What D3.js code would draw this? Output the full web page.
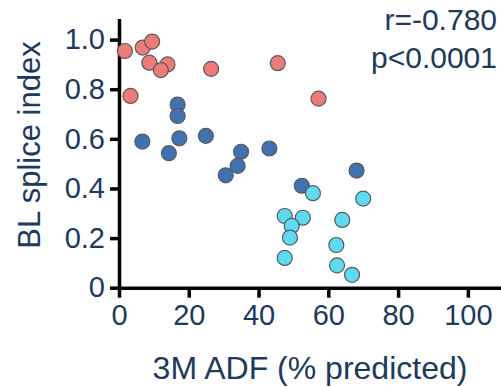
<!DOCTYPE html>
<html><head><meta charset="utf-8">
<script src="https://cdn.jsdelivr.net/npm/d3@7"></script>
<style>body{margin:0;background:#fff}svg{display:block}</style>
</head><body>
<svg id="c" width="501" height="387"></svg>
<script>
const redX = [1.7, 6.8, 9.5, 8.7, 13.9, 12.0, 26.4, 45.5, 3.3, 57.2];
const redY = [0.954, 0.968, 0.992, 0.907, 0.900, 0.877, 0.882, 0.905, 0.773, 0.762];
const blueX = [16.8, 16.8, 6.7, 17.3, 24.9, 35.0, 43.1, 14.3, 34.0, 30.6, 52.4, 68.1];
const blueY = [0.738, 0.692, 0.589, 0.602, 0.612, 0.548, 0.561, 0.542, 0.491, 0.453, 0.411, 0.472];
const cyanX = [55.6, 70.0, 47.5, 52.7, 49.5, 49.0, 47.5, 64.0, 62.3, 62.5, 66.8];
const cyanY = [0.381, 0.359, 0.289, 0.282, 0.249, 0.202, 0.120, 0.273, 0.172, 0.090, 0.052];
const xTicks = [0, 20, 40, 60, 80, 100];
const yTicks = [0, 0.2, 0.4, 0.6, 0.8, 1.0];
const yTickLabels = ["0", "0.2", "0.4", "0.6", "0.8", "1.0"];
const xTitle = "3M ADF (% predicted)";
const yTitle = "BL splice index";
const statLines = ["r=-0.780", "p<0.0001"];

const textColor = "#1c3a5e";
const font = "'Liberation Sans', Arial, sans-serif";
const svg = d3.select("#c");
const x = d3.scaleLinear().domain([0, 109.5]).range([119, 501]);
const y = d3.scaleLinear().domain([0, 1.085]).range([287.7, 18.5]);

const groups = [
  {xs: redX, ys: redY, fill: "#ee7b7a"},
  {xs: blueX, ys: blueY, fill: "#3e72b0"},
  {xs: cyanX, ys: cyanY, fill: "#5cdcf3"}
];

// axes
const xAxis = svg.append("g").attr("transform", "translate(0,287.7)")
  .call(d3.axisBottom(x).tickValues(xTicks).tickSize(10).tickPadding(7).tickSizeOuter(0));
const yAxis = svg.append("g").attr("transform", "translate(119,0)")
  .call(d3.axisLeft(y).tickValues(yTicks).tickFormat((d, i) => yTickLabels[i]).tickSize(9).tickPadding(5).tickSizeOuter(0));
[xAxis, yAxis].forEach(a => {
  a.select(".domain").attr("stroke", "#000").attr("stroke-width", 3.5);
  a.selectAll(".tick line").attr("stroke", "#000").attr("stroke-width", 3.5);
  a.selectAll(".tick text").attr("fill", textColor).attr("font-family", font).attr("font-size", 29);
});

// points
groups.forEach(g => {
  svg.append("g").selectAll("circle").data(g.xs.map((v, i) => [v, g.ys[i]])).join("circle")
    .attr("cx", d => x(d[0])).attr("cy", d => y(d[1])).attr("r", 7.5)
    .attr("fill", g.fill).attr("stroke", "#5a5a5a").attr("stroke-width", 1.2);
});

// titles
svg.append("text").attr("x", 310).attr("y", 379).attr("text-anchor", "middle")
  .attr("fill", textColor).attr("font-family", font).attr("font-size", 32).text(xTitle);
svg.append("text").attr("transform", "translate(40,145) rotate(-90)").attr("text-anchor", "middle")
  .attr("fill", textColor).attr("font-family", font).attr("font-size", 31).text(yTitle);
statLines.forEach((s, i) => {
  svg.append("text").attr("x", 497).attr("y", 30 + i * 38).attr("text-anchor", "end")
    .attr("fill", textColor).attr("font-family", font).attr("font-size", 30).text(s);
});
</script>
</body></html>
